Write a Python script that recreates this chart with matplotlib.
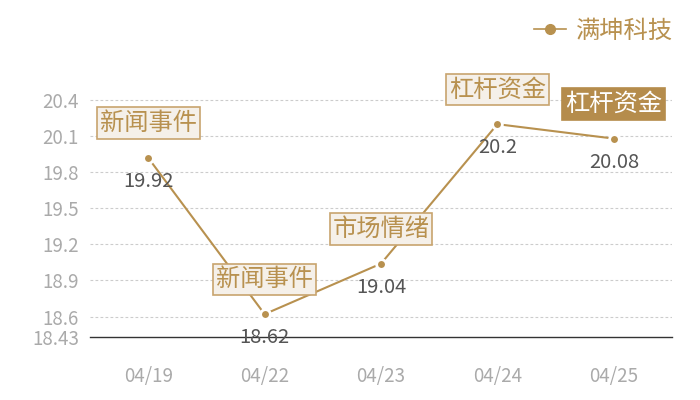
import numpy as np
import matplotlib
matplotlib.use('Agg')
import matplotlib.pyplot as plt
from matplotlib.lines import Line2D

plt.rcParams['font.family'] = ['Noto Sans CJK SC', 'DejaVu Sans']

# data
dates = ['04/19', '04/22', '04/23', '04/24', '04/25']
prices = [19.92, 18.62, 19.04, 20.2, 20.08]
events = ['新闻事件', '新闻事件', '市场情绪', '杠杆资金', '杠杆资金']
highlight = [False, False, False, False, True]
yticks = [18.43, 18.6, 18.9, 19.2, 19.5, 19.8, 20.1, 20.4]
series_name = '满坤科技'

gold = '#b8914f'
fig = plt.figure(figsize=(7, 4), dpi=100)
ax = fig.add_axes([0.1286, 0.1575, 0.8314, 0.7425])

x = np.arange(len(dates))
ax.plot(x, prices, color=gold, lw=1.5, marker='o', ms=7,
        mfc=gold, mec='white', mew=2, zorder=3)

ax.set_xlim(-0.5, len(dates) - 0.5)
ax.set_ylim(18.43, 20.9)
ax.set_xticks(x)
ax.set_xticklabels(dates)
ax.set_yticks(yticks)
ax.set_yticklabels([str(v) for v in yticks])
ax.tick_params(length=0, labelsize=13.5, labelcolor='#aaaaaa')
ax.tick_params(axis='x', pad=21)
ax.tick_params(axis='y', pad=8)
for g in yticks[1:]:
    ax.axhline(g, color='#cccccc', lw=0.8, ls=(0, (2.5, 2)), zorder=1)

for s in ['top', 'right', 'left']:
    ax.spines[s].set_visible(False)
ax.spines['bottom'].set_color('#333333')
ax.spines['bottom'].set_linewidth(1)

for i in range(len(dates)):
    if highlight[i]:
        fc, ec, tc = '#b58c4c', '#b58c4c', 'white'
    else:
        fc, ec, tc = '#f5f0e9', '#c8a46e', gold
    ax.annotate(events[i], (x[i], prices[i]), xytext=(0, 25),
                textcoords='offset points', ha='center', va='center',
                fontsize=17.5, color=tc, zorder=5,
                bbox=dict(boxstyle='square,pad=0.12', fc=fc, ec=ec, lw=1.2))
    ax.annotate(f'{prices[i]:g}', (x[i], prices[i]), xytext=(0, -17),
                textcoords='offset points', ha='center', va='center',
                fontsize=14.5, color='#555555', zorder=4)

handle = Line2D([], [], color=gold, lw=1.2, marker='o', ms=7, mfc=gold, mec=gold)
fig.legend([handle], [series_name], loc='upper right', bbox_to_anchor=(0.992, 1.01),
           frameon=False, fontsize=17.5, labelcolor=gold, handlelength=1.3,
           handletextpad=0.4)

fig.savefig('out.png', dpi=100)
